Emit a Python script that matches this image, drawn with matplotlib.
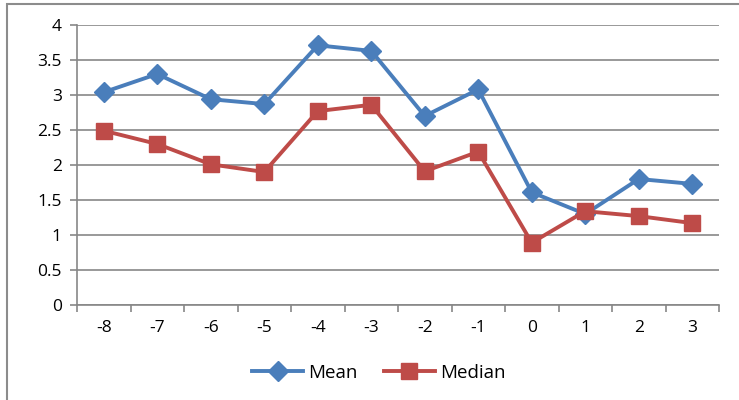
import matplotlib.pyplot as plt
from matplotlib.patches import Rectangle
import numpy as np

plt.rcParams['font.family'] = ['Open Sans', 'DejaVu Sans']

categories = ['-8', '-7', '-6', '-5', '-4', '-3', '-2', '-1', '0', '1', '2', '3']
mean_vals = [3.04, 3.30, 2.94, 2.87, 3.71, 3.63, 2.70, 3.08, 1.61, 1.30, 1.80, 1.73]
median_vals = [2.49, 2.30, 2.01, 1.90, 2.77, 2.86, 1.91, 2.19, 0.89, 1.34, 1.27, 1.17]

W, H = 739, 400
fig = plt.figure(figsize=(W / 100, H / 100), dpi=100)
ax = fig.add_axes([77 / W, 1 - 305 / H, (719 - 77) / W, (305 - 25) / H])

x = np.arange(len(categories))
grid_c = '#878787'

ax.plot(x, mean_vals, color='#4A7EBB', lw=2.8, marker='D', ms=10,
        label='Mean', zorder=3)
ax.plot(x, median_vals, color='#BE4B48', lw=2.8, marker='s', ms=12,
        label='Median', zorder=3)

ax.set_ylim(0, 4)
ax.set_yticks(np.arange(0, 4.01, 0.5))
ax.set_yticklabels(['0', '0.5', '1', '1.5', '2', '2.5', '3', '3.5', '4'])
ax.yaxis.grid(True, color=grid_c, lw=1.2)
ax.set_axisbelow(True)

ax.set_xlim(-0.5, len(categories) - 0.5)
# tick marks sit between categories, labels under each category
ax.set_xticks(np.arange(-0.5, len(categories), 1.0))
ax.set_xticklabels([])
ax.set_xticks(x, minor=True)
ax.set_xticklabels(categories, minor=True)
ax.tick_params(axis='x', which='minor', length=0, pad=11, labelsize=12.5)
ax.tick_params(axis='x', which='major', length=5, width=1.2, color=grid_c)
ax.tick_params(axis='y', length=5, width=1.2, color=grid_c, pad=6, labelsize=12.5)

for side in ['top', 'right']:
    ax.spines[side].set_visible(False)
for side in ['left', 'bottom']:
    ax.spines[side].set_color(grid_c)
    ax.spines[side].set_linewidth(1.2)

fig.legend(loc='center', bbox_to_anchor=(379 / W, 1 - 373 / H), ncol=2,
           frameon=False, fontsize=13.5, handlelength=2.7, columnspacing=1.4,
           handletextpad=0.3)

# chart frame, cut off at the right and bottom edges
fig.patches.append(Rectangle((7 / W, -0.1), 1.2, 1 - 4 / H + 0.1,
                             transform=fig.transFigure, fill=False,
                             edgecolor='#8C8C8C', lw=1.5))

fig.savefig('out.png', dpi=100)
